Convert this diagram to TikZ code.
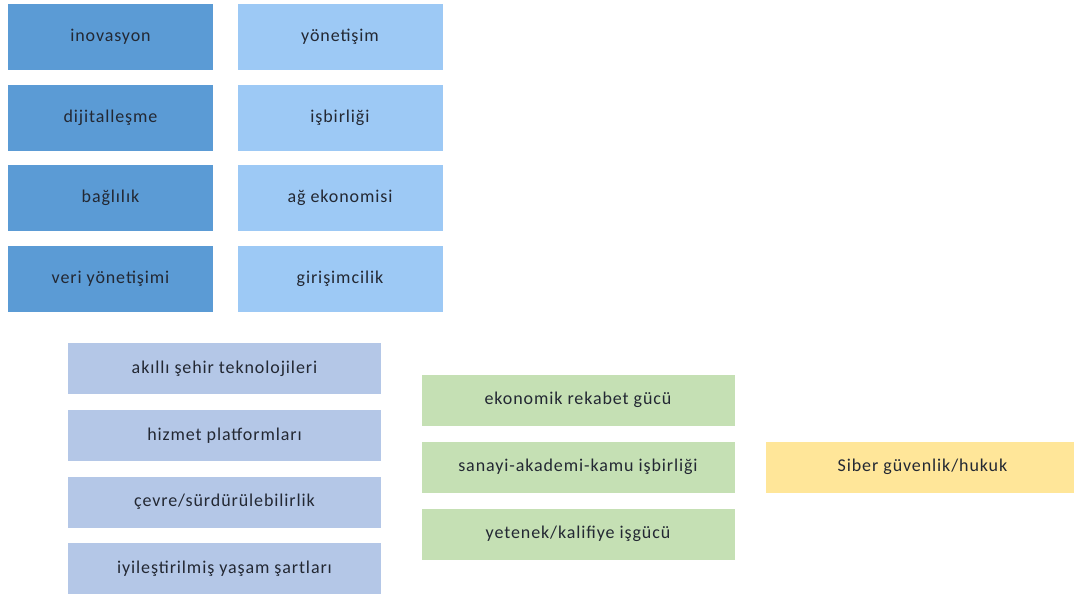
\documentclass[tikz,border=0pt]{standalone}
\usepackage{fontspec}
\setmainfont{Carlito}
\newfontfamily\boxfont[LetterSpace=5]{Carlito}
\definecolor{dblue}{HTML}{5B9BD5}
\definecolor{lblue}{HTML}{9DC9F5}
\definecolor{lav}{HTML}{B4C7E7}
\definecolor{lgreen}{HTML}{C5E0B4}
\definecolor{lyellow}{HTML}{FFE699}
\definecolor{txt}{HTML}{232833}
\begin{document}
\begin{tikzpicture}[x=1pt,y=-1pt,
  box/.style={rectangle, inner sep=0pt, text=txt, font=\boxfont\fontsize{18}{21}\selectfont},
  topbox/.style={box, minimum width=205pt, minimum height=66pt},
  dbox/.style={topbox, fill=dblue},
  lbox/.style={topbox, fill=lblue},
  lowbox/.style={box, minimum width=313pt, minimum height=51pt},
  lavbox/.style={lowbox, fill=lav},
  gbox/.style={lowbox, fill=lgreen},
  ybox/.style={lowbox, fill=lyellow}]
\useasboundingbox (0,0) rectangle (1074,597);
\fill[white] (0,0) rectangle (1074,597);
\begin{scope}
\clip (0,0) rectangle (1074,597);
\node[dbox] (ino) at (110.5,37) {inovasyon};
\node[dbox] (dij) at (110.5,117.5) {dijitalleşme};
\node[dbox] (bag) at (110.5,198) {bağlılık};
\node[dbox] (veri) at (110.5,279) {veri yönetişimi};
\node[lbox] (yon) at (340,37) {yönetişim};
\node[lbox] (isb) at (340,117.5) {işbirliği};
\node[lbox] (ag) at (340,198) {ağ ekonomisi};
\node[lbox] (gir) at (340,279) {girişimcilik};
\node[lavbox] (aki) at (224.5,368.5) {akıllı şehir teknolojileri};
\node[lavbox] (hiz) at (224.5,435.5) {hizmet platformları};
\node[lavbox] (cev) at (224.5,502) {çevre/sürdürülebilirlik};
\node[lavbox] (iyi) at (224.5,568.5) {iyileştirilmiş yaşam şartları};
\node[gbox] (eko) at (578,400) {ekonomik rekabet gücü};
\node[gbox] (san) at (578,467) {sanayi-akademi-kamu işbirliği};
\node[gbox] (yet) at (578,534) {yetenek/kalifiye işgücü};
\node[ybox] (sib) at (922.5,467) {Siber güvenlik/hukuk};
\end{scope}
\end{tikzpicture}
\end{document}
